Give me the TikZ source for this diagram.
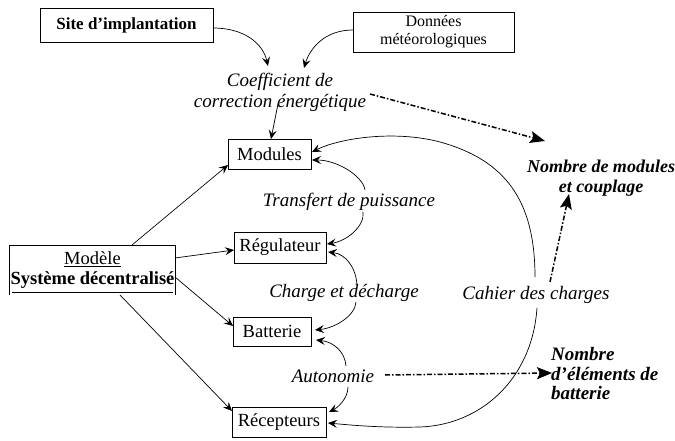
\documentclass[tikz,border=0pt]{standalone}
\usepackage{fontspec}
\setmainfont{Liberation Serif}
\usetikzlibrary{arrows.meta,calc}
\begin{document}
\begin{tikzpicture}[x=1pt,y=-1pt,
  box/.style={draw, line width=0.7pt, inner sep=0pt, align=center, font=\fontsize{18.5}{20}\selectfont},
  bbox/.style={box, font=\fontsize{17}{19}\selectfont\bfseries},
  lab/.style={inner sep=0pt, align=center, font=\fontsize{19}{21}\selectfont\itshape},
  res/.style={inner sep=0pt, font=\fontsize{18}{19.5}\selectfont\bfseries\itshape},
  conn/.style={line width=0.7pt, -{Stealth[length=9pt,width=8pt,inset=3.5pt]}},
  dd/.style={line width=1.5pt, dash pattern=on 5pt off 2pt on 1.5pt off 2pt, -{Stealth[length=15pt,width=12pt,inset=3pt]}}
]
\useasboundingbox (0,0) rectangle (675,441);

% boxes
\node[bbox, minimum width=173pt, minimum height=34pt] (site) at (126.5,25) {Site d'implantation};
\node[box, minimum width=161pt, minimum height=40pt, font=\fontsize{16}{18}\selectfont] (donnees) at (433.5,32) {Données\\météorologiques};
\node[box, minimum width=83pt, minimum height=30pt] (modules) at (269.5,154) {Modules};
\node[box, minimum width=92pt, minimum height=31pt] (regul) at (280,247.5) {Régulateur};
\node[box, minimum width=78pt, minimum height=29pt] (batt) at (272,331.5) {Batterie};
\node[box, minimum width=94pt, minimum height=30pt] (recep) at (279,422) {Récepteurs};
\node[box, double, double distance=2pt, minimum width=162pt, minimum height=47pt, font=\fontsize{18.5}{20}\selectfont] (modele) at (92.5,270) {\underline{Modèle}\\\textbf{Système décentralisé}};

% labels
\node[lab] (coef) at (280,92) {Coefficient de\\correction énergétique};
\node[lab] (transfert) at (349,202) {Transfert de puissance};
\node[lab] (charge) at (344,293) {Charge et décharge};
\node[lab] (autonomie) at (333,376) {Autonomie};
\node[lab] (cahier) at (536,295) {Cahier des charges};
\node[res, align=center] (nbmod) at (601,178) {Nombre de modules\\et couplage};
\node[res, align=left, anchor=west, font=\fontsize{19}{19.5}\selectfont\bfseries\itshape] (nbelem) at (551,374) {Nombre\\d'éléments de\\batterie};

% connectors
\draw[conn] ($(site)+(86.5,3)$) .. controls +(32,0) and +(-5,-22) .. ($(coef)+(-12,-26)$);
\draw[conn] ($(donnees)+(-80.5,-2)$) .. controls +(-28,0) and +(6,-20) .. ($(coef)+(24,-24)$);
\draw[conn] ($(coef)+(-2,12)$) -- ($(modules)+(1.5,-15)$);

\draw[conn] ($(modele)+(39.5,-25)$) -- ($(modules)+(-41.5,11)$);
\draw[conn] ($(modele)+(82.5,-12)$) -- ($(regul)+(-46,2.5)$);
\draw[conn] ($(modele)+(82.5,7)$) -- ($(batt)+(-39,-5.5)$);
\draw[conn] ($(modele)+(27.5,25)$) -- ($(recep)+(-47,-11)$);

\draw[conn] ($(transfert)+(16,-12)$) .. controls +(-2,-14) and +(25,0) .. ($(modules)+(42.5,6)$);
\draw[conn] ($(transfert)+(14,10)$) .. controls +(2,14) and +(20,-3) .. ($(regul)+(47,-3.5)$);
\draw[conn] ($(charge)+(13,-8)$) .. controls +(-1,-17) and +(18,2) .. ($(regul)+(48,4.5)$);
\draw[conn] ($(charge)+(12,9)$) .. controls +(-1,14) and +(20,-2) .. ($(batt)+(43,-1.5)$);
\draw[conn] ($(autonomie)+(13,-10)$) .. controls +(-1,-14) and +(18,2) .. ($(batt)+(44,8.5)$);
\draw[conn] ($(autonomie)+(15,11)$) .. controls +(0,12) and +(8,-4) .. ($(recep)+(50,-10)$);

\draw[conn] ($(cahier)+(-1,-18)$) .. controls +(0,-77) and +(65,18) .. ($(modules)+(170.5,-12)$)
  .. controls +(-45,-12) and +(28,-14) .. ($(modules)+(42.5,-2)$);
\draw[conn] ($(cahier)+(1,13)$) .. controls +(-5,72) and +(60,-2) .. ($(recep)+(141,5)$)
  .. controls +(-40,1) and +(22,2) .. ($(recep)+(49,1)$);

% dash-dot result arrows
\draw[dd] ($(coef)+(90,2)$) -- ($(nbmod)+(-56,-37)$);
\draw[dd] ($(cahier)+(14,-13)$) -- ($(nbmod)+(-32,16)$);
\draw[dd] ($(autonomie)+(52,-1)$) -- ($(nbelem.west)+(1,-1)$);
\end{tikzpicture}
\end{document}
